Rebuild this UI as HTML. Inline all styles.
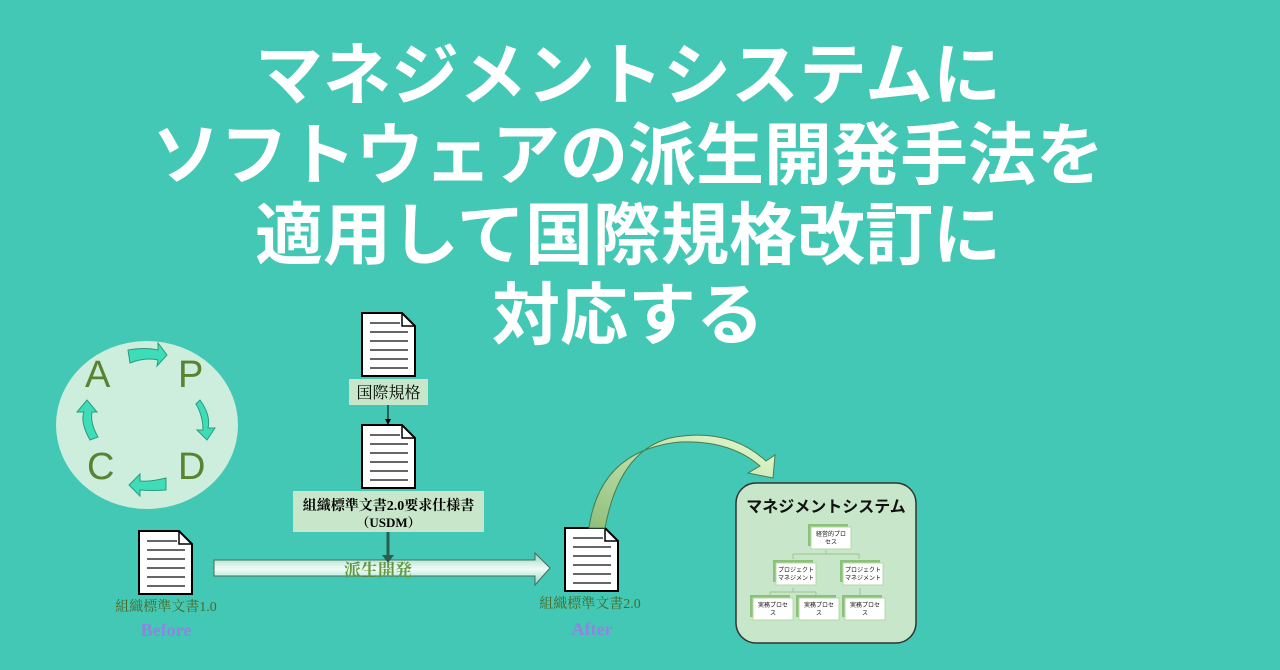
<!DOCTYPE html>
<html><head><meta charset="utf-8">
<style>
html,body{margin:0;padding:0}
body{width:1280px;height:670px;background:#42c8b4;position:relative;overflow:hidden;font-family:"Liberation Sans","Noto Sans CJK JP",sans-serif}
.title{position:absolute;left:0;top:36px;width:1256px;text-align:center;color:#fff;font-weight:700;font-size:68px;line-height:80px;font-family:"Liberation Sans","Noto Sans CJK JP",sans-serif;z-index:2}
svg{position:absolute;left:0;top:0}
</style></head><body>
<svg width="1280" height="670" viewBox="0 0 1280 670">
<defs>
<linearGradient id="ag" x1="0" y1="0" x2="0" y2="1">
<stop offset="0" stop-color="#8ed8c4"/><stop offset="0.5" stop-color="#f2fbf6"/><stop offset="1" stop-color="#8ed8c4"/>
</linearGradient>
<linearGradient id="cg" x1="0" y1="1" x2="1" y2="0">
<stop offset="0" stop-color="#8fbf7a"/><stop offset="1" stop-color="#e6fbd2"/>
</linearGradient>
<g id="doc">
<path d="M0,0 H40 L53,13 V63 H0 Z" fill="#fff" stroke="#000" stroke-width="2"/>
<path d="M40,0 V13 H53" fill="none" stroke="#000" stroke-width="1.5"/>
<g stroke="#333" stroke-width="1.5"><line x1="8" y1="10" x2="38" y2="10"/><line x1="8" y1="19" x2="46" y2="19"/><line x1="8" y1="28" x2="46" y2="28"/><line x1="8" y1="37" x2="46" y2="37"/><line x1="8" y1="46" x2="46" y2="46"/><line x1="8" y1="55" x2="46" y2="55"/></g>
</g>
<g id="sbox">
<rect x="-3" y="-3" width="40" height="22" fill="#8bc27a"/>
<rect x="0" y="0" width="40" height="22" fill="#fff" stroke="#b8d8a8" stroke-width="1"/>
</g>
</defs>

<ellipse cx="147" cy="425" rx="91" ry="84" fill="#cdeedd"/>
<g font-family="Liberation Sans,sans-serif" font-size="38" fill="#5a8230">
<text x="85" y="387">A</text><text x="178" y="387">P</text>
<text x="87" y="479">C</text><text x="178" y="479">D</text>
</g>
<g fill="#3fdcb8" stroke="#2a9a80" stroke-width="1">
<path d="M128,350 Q145,347 158,350 L158,343 L167,355 L157,366 L158,360 Q145,357 130,363 Z"/>
<path d="M200,400 Q211,415 208,428 L215,428 L207,440 L197,430 L203,430 Q203,416 196,404 Z"/>
<path d="M166,478 Q150,482 140,481 L140,474 L129,485 L140,496 L140,490 Q152,491 166,490 Z"/>
<path d="M90,440 Q80,422 84,412 L77,412 L87,400 L97,412 L92,412 Q90,423 98,437 Z"/>
</g>

<use href="#doc" x="362" y="313"/>
<use href="#doc" x="362" y="425"/>
<use href="#doc" x="139" y="531"/>
<use href="#doc" x="565" y="528"/>

<rect x="349" y="379" width="79" height="26" fill="#c8e6c9"/>
<text x="388.5" y="398" text-anchor="middle" font-size="16" font-family="Liberation Serif,Noto Serif CJK SC,serif" fill="#000">国際規格</text>
<line x1="388" y1="405" x2="388" y2="420" stroke="#000" stroke-width="1"/>
<path d="M385,419 L391,419 L388,425 Z" fill="#000"/>

<rect x="293" y="491" width="191" height="41" fill="#c8e6c9"/>
<text x="388.5" y="510" text-anchor="middle" font-size="14" font-weight="700" font-family="Liberation Serif,Noto Serif CJK SC,serif" fill="#000">組織標準文書2.0要求仕様書</text>
<text x="388.5" y="527" text-anchor="middle" font-size="13" font-weight="700" font-family="Liberation Serif,Noto Serif CJK SC,serif" fill="#000">（USDM）</text>

<path d="M214,560 H535 V553 L550,568 L535,585 V576 H214 Z" fill="url(#ag)" stroke="#4a6a60" stroke-width="1"/>
<line x1="388" y1="532" x2="388" y2="556" stroke="#2c5d50" stroke-width="3"/>
<path d="M382,555 L394,555 L388,563 Z" fill="#2c5d50"/>
<text x="378" y="576" text-anchor="middle" font-size="17" font-weight="700" font-family="Liberation Serif,Noto Serif CJK SC,serif" fill="#5f9a3f">派生開発</text>

<path d="M589,528 Q600,450 680,442 Q730,440 760,466 L748,473 L773,478 L775,455 L766,461 Q730,428 675,437 Q620,447 605,528 Z" fill="url(#cg)" stroke="#4a7a50" stroke-width="1"/>

<g font-family="Liberation Serif,Noto Serif CJK SC,serif" font-size="14" fill="#4a6a2a">
<text x="166" y="611" text-anchor="middle">組織標準文書1.0</text>
<text x="590" y="608" text-anchor="middle">組織標準文書2.0</text>
</g>
<g font-family="Liberation Serif,serif" font-size="18" font-weight="700" fill="#8f85e0">
<text x="166" y="636" text-anchor="middle">Before</text>
<text x="592" y="635" text-anchor="middle">After</text>
</g>

<rect x="736" y="483" width="180" height="160" rx="20" fill="#c8e6c9" stroke="#333" stroke-width="1.5"/>
<text x="826" y="512" text-anchor="middle" font-size="16" font-weight="700" font-family="Liberation Sans,Noto Sans CJK JP,sans-serif" fill="#111">マネジメントシステム</text>
<g stroke="#9cc68c" stroke-width="1" fill="none">
<path d="M826,550 V554 M793,554 H859 M793,554 V559 M859,554 V559 M793,588 V592 M770,592 H816 M770,592 V597 M816,592 V597 M860,588 V597"/>
</g>
<use href="#sbox" x="811" y="527"/>
<use href="#sbox" x="776" y="563"/>
<use href="#sbox" x="843" y="563"/>
<use href="#sbox" x="753" y="598"/>
<use href="#sbox" x="799" y="598"/>
<use href="#sbox" x="845" y="598"/>
<g font-size="6" font-family="Liberation Sans,Noto Sans CJK JP,sans-serif" fill="#111" text-anchor="middle">
<text x="831" y="536">経営的プロ</text><text x="831" y="544">セス</text>
<text x="796" y="572">プロジェクト</text><text x="796" y="580">マネジメント</text>
<text x="863" y="572">プロジェクト</text><text x="863" y="580">マネジメント</text>
<text x="773" y="607">実務プロセ</text><text x="773" y="615">ス</text>
<text x="819" y="607">実務プロセ</text><text x="819" y="615">ス</text>
<text x="865" y="607">実務プロセ</text><text x="865" y="615">ス</text>
</g>
</svg>
<div class="title">マネジメントシステムに<br>ソフトウェアの派生開発手法を<br>適用して国際規格改訂に<br>対応する</div>
</body></html>
